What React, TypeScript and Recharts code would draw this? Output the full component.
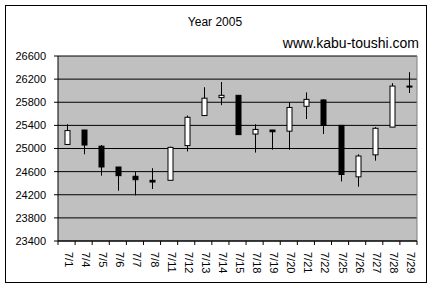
import React from "react";
import { ComposedChart, Bar, XAxis, YAxis, CartesianGrid } from "recharts";

const dates = ["7/1","7/4","7/5","7/6","7/7","7/8","7/11","7/12","7/13","7/14","7/15","7/18","7/19","7/20","7/21","7/22","7/25","7/26","7/27","7/28","7/29"];
const opens = [25070,25320,25040,24680,24520,24450,24450,25050,25570,25880,25920,25250,25320,25300,25730,25840,25400,24510,24890,25370,26080];
const highs = [25420,25320,25060,24680,24600,24660,25030,25570,26060,26150,25920,25420,25320,25800,25970,25850,25400,24900,25370,26130,26320];
const lows = [25060,24900,24530,24270,24190,24300,24450,24950,25570,25750,25240,24930,24980,24980,25510,25250,24430,24340,24790,25370,25960];
const closes = [25310,25060,24680,24530,24460,24420,25020,25540,25870,25920,25240,25330,25290,25710,25850,25400,24550,24870,25350,26080,26070];
const yTicks = [23400,23800,24200,24600,25000,25400,25800,26200,26600];

const data = dates.map((d, i) => ({
  date: d,
  open: opens[i],
  high: highs[i],
  low: lows[i],
  close: closes[i],
  range: [lows[i], highs[i]],
}));

const FONT = "'Liberation Sans', Arial, sans-serif";

const Candle = (props: any) => {
  const { x, y, width, height, payload } = props;
  const top = Math.min(y, y + height);
  const h = Math.abs(height);
  const { open, high, low, close } = payload;
  const pix = (v: number) => (high === low ? top : top + ((high - v) / (high - low)) * h);
  const cx = Math.round(x + width / 2) + 0.5;
  const bTop = pix(Math.max(open, close));
  const bBot = pix(Math.min(open, close));
  const up = close > open;
  return (
    <g>
      <line x1={cx} x2={cx} y1={top} y2={top + h} stroke="#000" strokeWidth={1} />
      <rect
        x={cx - 2.5}
        y={bTop}
        width={5}
        height={Math.max(1, bBot - bTop)}
        fill={up ? "#fff" : "#000"}
        stroke="#000"
        strokeWidth={1}
      />
    </g>
  );
};

const XTick = (props: any) => {
  const { x, y, payload, index } = props;
  const half = 359 / 21 / 2;
  return (
    <g>
      <line x1={x - half} x2={x - half} y1={y} y2={y + 4} stroke="#000" />
      {index === dates.length - 1 && (
        <line x1={x + half} x2={x + half} y1={y} y2={y + 4} stroke="#000" />
      )}
      <text
        transform={`translate(${x + 2.5},${y + 11}) rotate(90)`}
        textAnchor="start"
        dominantBaseline="central"
        fontSize={11}
        fontFamily={FONT}
        fill="#000"
      >
        {payload.value}
      </text>
    </g>
  );
};

export default function App() {
  return (
    <div style={{ position: "absolute", left: 0, top: 0, width: 432, height: 288, background: "#fff" }}>
      <div
        style={{
          position: "absolute",
          left: 5,
          top: 5,
          width: 420,
          height: 276,
          border: "1px solid #000",
        }}
      />
      <div
        style={{
          position: "absolute",
          left: 0,
          width: 430,
          top: 14,
          textAlign: "center",
          fontFamily: FONT,
          fontSize: 12,
          lineHeight: "16px",
        }}
      >
        Year 2005
      </div>
      <div
        style={{
          position: "absolute",
          right: 432 - 419,
          top: 35,
          fontFamily: FONT,
          fontSize: 14,
          lineHeight: "16px",
        }}
      >
        www.kabu-toushi.com
      </div>
      <div style={{ position: "absolute", left: 0, top: 0 }}>
        <ComposedChart
          width={432}
          height={288}
          data={data}
          margin={{ top: 56, right: 15, bottom: 0, left: 8 }}
        >
          <CartesianGrid vertical={false} stroke="#000" fill="#C0C0C0" />
          <CartesianGrid horizontal={false} verticalPoints={[417]} stroke="#808080" />
          <XAxis
            dataKey="date"
            interval={0}
            height={47}
            tickLine={false}
            tickSize={0}
            tickMargin={0}
            axisLine={{ stroke: "#000" }}
            tick={<XTick />}
          />
          <YAxis
            domain={[23400, 26600]}
            ticks={yTicks}
            width={50}
            tickSize={4}
            tickMargin={8}
            axisLine={{ stroke: "#000" }}
            tickLine={{ stroke: "#000" }}
            tick={{ fontSize: 11, fontFamily: FONT, fill: "#000" }}
            interval={0}
          />
          <Bar dataKey="range" barSize={6} shape={<Candle />} isAnimationActive={false} />
        </ComposedChart>
      </div>
    </div>
  );
}
